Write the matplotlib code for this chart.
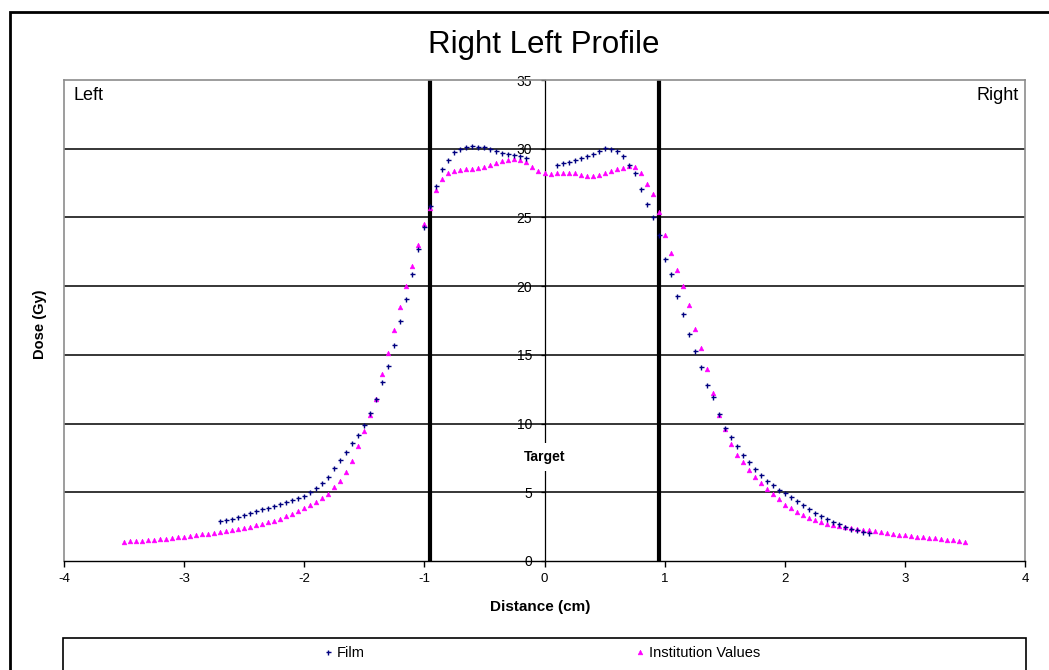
import numpy as np
import matplotlib
matplotlib.use('Agg')
import matplotlib.pyplot as plt
from matplotlib.patches import Rectangle

plt.rcParams['font.family'] = 'Liberation Sans'
plt.rcParams['axes.unicode_minus'] = False

# sampling positions (cm): one point every 0.05 cm
step = 0.05
film_left_x = np.round(np.arange(-2.70, -0.15 + step / 2, step), 2)
film_right_x = np.round(np.arange(0.10, 2.70 + step / 2, step), 2)
inst_x = np.round(np.arange(-3.50, 3.50 + step / 2, step), 2)

# film dose (Gy), left half -2.70..-0.15
film_left_dose = [
    2.90, 2.97, 3.05, 3.17, 3.32, 3.46, 3.62, 3.76, 3.88, 4.02,
    4.16, 4.30, 4.42, 4.60, 4.75, 5.00, 5.30, 5.65, 6.10, 6.75,
    7.35, 7.95, 8.60, 9.20, 9.90, 10.8, 11.8, 13.0, 14.2, 15.7,
    17.5, 19.1, 20.9, 22.7, 24.3, 25.8, 27.3, 28.5, 29.2, 29.75,
    30.0, 30.1, 30.2, 30.15, 30.1, 29.95, 29.85, 29.7, 29.6, 29.55,
    29.45, 29.3,
]
# film dose (Gy), right half 0.10..2.70
film_right_dose = [
    28.85, 28.95, 29.05, 29.2, 29.3, 29.45, 29.6, 29.8, 30.05, 30.0,
    29.8, 29.45, 28.85, 28.2, 27.1, 26.0, 25.0, 23.7, 22.0, 20.9,
    19.3, 18.0, 16.5, 15.3, 14.1, 12.8, 11.9, 10.7, 9.7, 9.0,
    8.35, 7.7, 7.2, 6.7, 6.25, 5.85, 5.5, 5.2, 4.95, 4.65,
    4.35, 4.05, 3.78, 3.52, 3.28, 3.06, 2.86, 2.68, 2.51, 2.36,
    2.23, 2.12, 2.04,
]
# institution values (Gy), -3.50..3.50
inst_dose = [
    1.40, 1.43, 1.46, 1.49, 1.52, 1.55, 1.59, 1.63, 1.67, 1.72,
    1.77, 1.82, 1.87, 1.93, 1.99, 2.05, 2.12, 2.19, 2.26, 2.33,
    2.40, 2.49, 2.59, 2.70, 2.82, 2.94, 3.08, 3.24, 3.42, 3.62,
    3.84, 4.05, 4.28, 4.55, 4.90, 5.40, 5.85, 6.50, 7.30, 8.40,
    9.45, 10.6, 11.8, 13.6, 15.1, 16.8, 18.5, 20.0, 21.5, 23.0,
    24.5, 25.7, 27.0, 27.8, 28.2, 28.4, 28.45, 28.5, 28.55, 28.6,
    28.7, 28.8, 28.95, 29.1, 29.2, 29.25, 29.2, 29.0, 28.7, 28.4,
    28.2, 28.15, 28.2, 28.25, 28.25, 28.2, 28.1, 28.0, 28.0, 28.1,
    28.2, 28.35, 28.5, 28.6, 28.75, 28.7, 28.2, 27.4, 26.7, 25.4,
    23.7, 22.4, 21.2, 20.0, 18.6, 16.9, 15.5, 14.0, 12.2, 10.6,
    9.6, 8.5, 7.7, 7.2, 6.65, 6.10, 5.65, 5.25, 4.85, 4.50,
    4.10, 3.85, 3.58, 3.35, 3.15, 2.97, 2.85, 2.72, 2.62, 2.53,
    2.46, 2.40, 2.34, 2.28, 2.22, 2.16, 2.10, 2.04, 1.98, 1.92,
    1.87, 1.82, 1.77, 1.72, 1.68, 1.64, 1.60, 1.55, 1.50, 1.45,
    1.40,
]

target_edges = [-0.955, 0.955]
x_ticks = [-4, -3, -2, -1, 0, 1, 2, 3, 4]
y_ticks = [0, 5, 10, 15, 20, 25, 30, 35]

film_x = np.concatenate([film_left_x, film_right_x])
film_dose = film_left_dose + film_right_dose

fig = plt.figure(figsize=(10.49, 6.70), dpi=100)
ax = fig.add_axes([64 / 1049, 1 - 561 / 670, 961 / 1049, 481 / 670])

# horizontal grid lines
ax.hlines(y_ticks[1:-1], -4, 4, color='black', lw=1.1, zorder=1)

# target borders
for xe in target_edges:
    ax.axvline(xe, color='black', lw=3, zorder=2)

film, = ax.plot(film_x, film_dose, ls='none', marker='+', color='#000080',
                ms=3.6, mew=1.0, zorder=4, label='Film')
inst, = ax.plot(inst_x, inst_dose, ls='none', marker='^', color='#FF00FF',
                ms=3.4, mew=0.4, zorder=3, label='Institution Values')

ax.set_xlim(-4, 4)
ax.set_ylim(0, 35)
ax.set_xticks(x_ticks)
ax.set_yticks(y_ticks)

gray = '#8c8c8c'
ax.spines['left'].set_position(('data', 0))
ax.spines['left'].set_color('black')
ax.spines['left'].set_linewidth(0.9)
ax.spines['bottom'].set_color('black')
ax.spines['bottom'].set_linewidth(1.0)
for s in ['top', 'right']:
    ax.spines[s].set_color(gray)
    ax.spines[s].set_linewidth(1.2)
ax.plot([-4, -4], [0, 35], color=gray, lw=1.2, clip_on=False, zorder=2.5)

ax.tick_params(axis='x', direction='out', length=4, width=1, pad=5,
               labelsize=9.5)
ax.tick_params(axis='y', direction='out', length=3, width=0.9, pad=6,
               labelsize=10)

ax.set_xlabel('Distance (cm)', fontsize=11, fontweight='bold')
ax.xaxis.set_label_coords(0.496, -0.095)
ax.xaxis.label.set_va('center')
ax.set_ylabel('Dose (Gy)', fontsize=10.5, fontweight='bold')
ax.yaxis.set_label_coords(-0.025, 0.493)
ax.yaxis.label.set_va('center')

ax.text(0, 7.55, 'Target', ha='center', va='center', fontsize=10,
        fontweight='bold', zorder=5,
        bbox=dict(fc='white', ec='none', pad=5))
ax.text(0.0104, 0.985, 'Left', transform=ax.transAxes, ha='left', va='top',
        fontsize=13)
ax.text(0.994, 0.985, 'Right', transform=ax.transAxes, ha='right', va='top',
        fontsize=13)

fig.text(544 / 1049, 1 - 45 / 670, 'Right Left Profile', ha='center',
         va='center', fontsize=22.5)

ax.legend(handles=[film, inst], loc='center',
          bbox_to_anchor=(541.6 / 1049, 1 - 653 / 670),
          bbox_transform=fig.transFigure, ncol=2, frameon=False,
          fontsize=10.5, handlelength=0.6, handletextpad=0.3,
          columnspacing=18.6, borderaxespad=0)

# legend box and outer chart border
fig.add_artist(Rectangle((63 / 1049, -0.1), 963 / 1049, 0.1 + 1 - 638 / 670,
                         transform=fig.transFigure, fill=False,
                         ec='black', lw=1.2))
fig.add_artist(Rectangle((10 / 1049, -0.1), 1.2, 1.1 - 12.5 / 670,
                         transform=fig.transFigure, fill=False,
                         ec='black', lw=2))

fig.savefig('out.png', dpi=100)
